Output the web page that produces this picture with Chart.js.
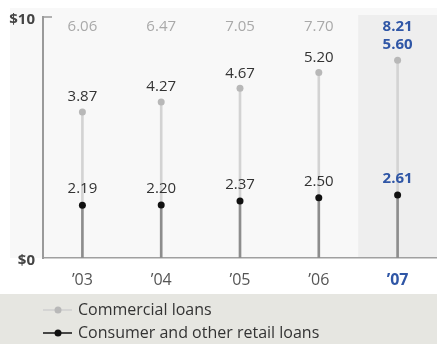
<!DOCTYPE html>
<html>
<head>
<meta charset="utf-8">
<title>Loans</title>
<script src="https://cdn.jsdelivr.net/npm/chart.js"></script>
<style>
    html, body { margin: 0; padding: 0; background: #fff; overflow: hidden; }
    #wrap { width: 437px; height: 344px; overflow: hidden; position: relative; }
    #loansChart { display: block; }
</style>
</head>
<body>
<div id="wrap"><canvas id="loansChart" width="441" height="344"></canvas></div>
<script>
// values in $ billions
const years = ['\u201903', '\u201904', '\u201905', '\u201906', '\u201907'];
const consumerLoans = [2.19, 2.20, 2.37, 2.50, 2.61];
const commercialLoans = [3.87, 4.27, 4.67, 5.20, 5.60];
const totalLoans = [6.06, 6.47, 7.05, 7.70, 8.21];
const yTicks = [0, 10];
const highlightIndex = 4; // latest year

const FONT = "'Open Sans', sans-serif";
const BLUE = '#2f56a6';
const TEXT = '#333';

// panel + highlighted year column + legend strip
const backdrop = {
    id: 'backdrop',
    beforeDraw(chart) {
        const { ctx, chartArea, width, height } = chart;
        const x = chart.scales.x;
        const step = x.getPixelForTick(1) - x.getPixelForTick(0);
        ctx.save();
        ctx.fillStyle = '#fff';
        ctx.fillRect(0, 0, width, height);
        ctx.fillStyle = '#f8f8f8';
        ctx.fillRect(10, 8, width - 10, chartArea.bottom - 8);
        ctx.fillStyle = '#eeeeee';
        const hx = x.getPixelForTick(highlightIndex) - step / 2;
        ctx.fillRect(hx, chartArea.top - 2, chartArea.right - hx, chartArea.bottom - chartArea.top + 2);
        ctx.fillStyle = '#e6e6e1';
        ctx.fillRect(0, 294, width, height - 294);
        ctx.restore();
    },
    afterDraw(chart) {
        // short inward tick at the $10 mark
        const { ctx, chartArea } = chart;
        ctx.save();
        ctx.strokeStyle = '#9a9a9a';
        ctx.lineWidth = 1.5;
        ctx.beginPath();
        ctx.moveTo(chartArea.left, chartArea.top);
        ctx.lineTo(chartArea.left + 9, chartArea.top);
        ctx.stroke();
        ctx.restore();
    }
};

// value labels above each dot, totals along the top
const valueLabels = {
    id: 'valueLabels',
    afterDatasetsDraw(chart) {
        const { ctx, chartArea } = chart;
        const consumerDots = chart.getDatasetMeta(2).data;
        const commercialDots = chart.getDatasetMeta(3).data;
        ctx.save();
        ctx.textAlign = 'center';
        ctx.textBaseline = 'middle';
        years.forEach((_, i) => {
            const hi = i === highlightIndex;
            ctx.font = (hi ? 'bold ' : '') + '15px ' + FONT;
            ctx.fillStyle = hi ? BLUE : '#a9a9a9';
            ctx.fillText(totalLoans[i].toFixed(2), commercialDots[i].x, chartArea.top + 10);
            ctx.fillStyle = hi ? BLUE : TEXT;
            ctx.fillText(commercialLoans[i].toFixed(2), commercialDots[i].x, commercialDots[i].y - 15);
            ctx.fillText(consumerLoans[i].toFixed(2), consumerDots[i].x, consumerDots[i].y - 16);
        });
        ctx.restore();
    }
};

// two-row legend in the bottom strip
const legendRows = {
    id: 'legendRows',
    afterDraw(chart) {
        const { ctx } = chart;
        const rows = [
            { ds: 3, line: '#cfcfcf', dot: '#b8b8b8', y: 310 },
            { ds: 2, line: '#111', dot: '#111', y: 333 }
        ];
        ctx.save();
        rows.forEach(r => {
            ctx.strokeStyle = r.line;
            ctx.lineWidth = 1.5;
            ctx.beginPath();
            ctx.moveTo(43, r.y);
            ctx.lineTo(72, r.y);
            ctx.stroke();
            ctx.fillStyle = r.dot;
            ctx.beginPath();
            ctx.arc(58, r.y, 3.5, 0, Math.PI * 2);
            ctx.fill();
            ctx.fillStyle = TEXT;
            ctx.font = '16px ' + FONT;
            ctx.textBaseline = 'middle';
            ctx.fillText(chart.data.datasets[r.ds].label, 78, r.y);
        });
        ctx.restore();
    }
};

const ctx = document.getElementById('loansChart').getContext('2d');
new Chart(ctx, {
    data: {
        labels: years,
        datasets: [
            { type: 'bar', label: 'Consumer and other retail loans', data: consumerLoans, backgroundColor: '#8d8d8d', barThickness: 2, stack: 'stems', order: 2 },
            { type: 'bar', label: 'Commercial loans', data: commercialLoans, backgroundColor: '#d3d3d3', barThickness: 2, stack: 'stems', order: 2 },
            { type: 'line', label: 'Consumer and other retail loans', data: consumerLoans, showLine: false, pointRadius: 3.5, pointBorderWidth: 0, pointBackgroundColor: '#111', stack: 'dots', order: 1 },
            { type: 'line', label: 'Commercial loans', data: commercialLoans, showLine: false, pointRadius: 3.5, pointBorderWidth: 0, pointBackgroundColor: '#b8b8b8', stack: 'dots', order: 1 }
        ]
    },
    options: {
        responsive: false,
        animation: false,
        events: [],
        layout: { padding: { top: 14, right: 0, bottom: 50, left: 0 } },
        plugins: { legend: { display: false }, tooltip: { enabled: false } },
        scales: {
            x: {
                offset: true,
                grid: { display: false, drawTicks: false },
                border: { display: true, color: '#a0a0a0', width: 1.5 },
                ticks: {
                    padding: 13,
                    color: c => c.index === highlightIndex ? BLUE : '#555',
                    font: c => ({ family: FONT, size: 16, weight: c.index === highlightIndex ? 'bold' : 'normal' })
                },
                afterFit: s => { s.height = 36; }
            },
            y: {
                stacked: true,
                min: 0,
                max: 10,
                afterBuildTicks: s => { s.ticks = yTicks.map(v => ({ value: v })); },
                grid: { display: false, drawTicks: false },
                border: { display: true, color: '#9a9a9a', width: 2 },
                ticks: {
                    padding: 8,
                    labelOffset: 3,
                    color: '#444',
                    font: { family: FONT, size: 15, weight: 'bold' },
                    callback: v => '$' + v
                },
                afterFit: s => { s.width = 43; }
            }
        }
    },
    plugins: [backdrop, valueLabels, legendRows]
});
</script>
</body>
</html>
